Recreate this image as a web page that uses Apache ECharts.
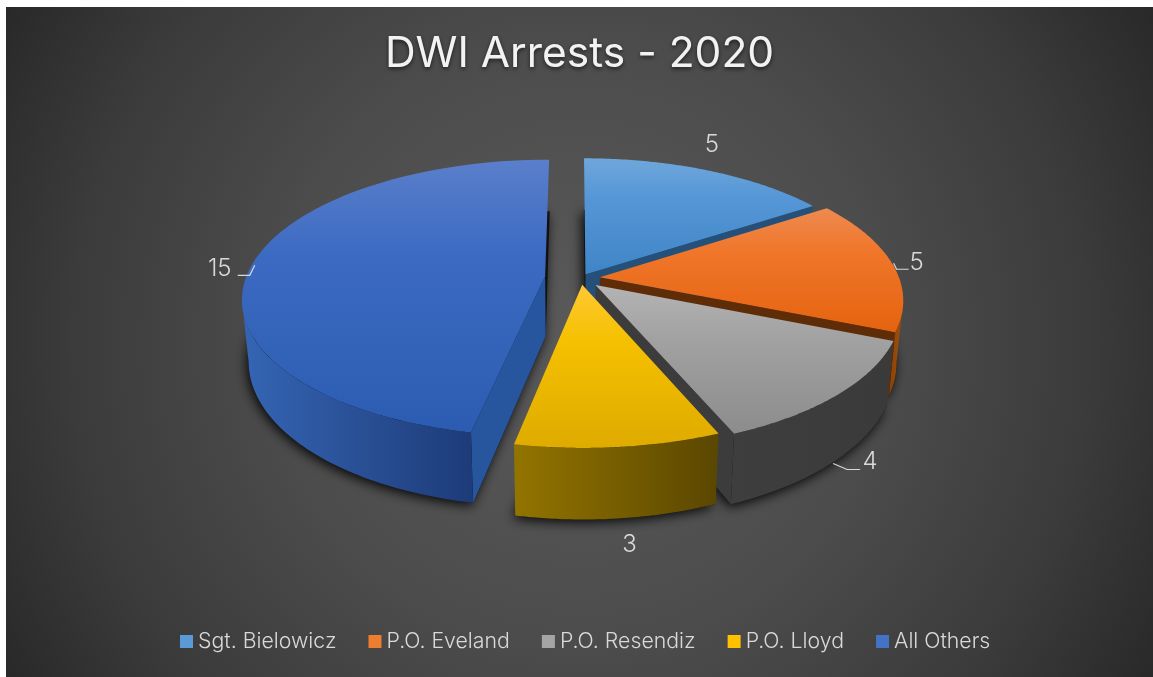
<!DOCTYPE html>
<html><head><meta charset="utf-8">
<style>html,body{margin:0;padding:0;background:#fff;width:1153px;height:677px;overflow:hidden}
#c{position:absolute;left:6px;top:7px;width:1147px;height:670px}</style>
<script src="https://cdn.jsdelivr.net/npm/echarts@6/dist/echarts.min.js"></script>
</head><body><div id="c"></div>
<script>
const categories = ['Sgt. Bielowicz','P.O. Eveland','P.O. Resendiz','P.O. Lloyd','All Others'];
const arrests = [5,5,4,3,15];
const legendColors = ['#5b9bd5','#ed7d31','#a5a5a5','#ffc000','#4472c4'];
const topFrom = ['#6fa7dc','#ee8a50','#b4b4b4','#ffc833','#5a7fcb'];
const topMid = ['#5596d6','#f0762a','#a2a2a2','#f5c000','#3c6ac2'];
const topTo = ['#3f85c6','#e5630f','#8c8c8c','#deab00','#2c5cb2'];
const wallFrom = ['#2d5f8c','#8a4208','#3e3e3e','#937400','#3565b4'];
const wallTo = ['#1f4b73','#a0500c','#3a3a3a','#5a4700','#1d3b78'];
const cutColor = ['#24507a','#5f2c08','#3c3c3c','#8a6c00','#27569f'];
const drawOrder = [0,1,4,2,3];
const explodeX = [0.035,0.083,0.068,0.024,-0.1];
const explodeY = [0.04,0.02,-0.037,-0.035,0.027];
const labelShift = [[4,-26],[24,-1],[32,67],[11,98],[-33,5]];
const leaders = [null,[[-23,0],[-20,6],[-8,6]],[[-37,2],[-23,8],[-10,8]],null,[[35,-3],[30,7],[18,7]]];
const total = arrests.reduce((a,b)=>a+b,0);
const CX=575-6, CY=280-7, RX=300, RY=136, D=6.4, DEPTH=60, TAPER=0.02;
const G = echarts.graphic;
function proj(X,Y,z){const s=D/(D+Y);return [CX+RX*X*s*(1-TAPER*z), CY-RY*Y*s+z*DEPTH*s];}
function slicePts(a1,a2,i,z,n){const ox=explodeX[i],oy=explodeY[i];const pts=[];
  for(let k=0;k<=n;k++){const t=a1+(a2-a1)*k/n;pts.push(proj(Math.sin(t)+ox,Math.cos(t)+oy,z));}
  return pts;}
function extremeAngle(i,sign){let best=0,bx=-Infinity;
  for(let k=0;k<=720;k++){const t=k/720*2*Math.PI;const x=sign*proj(Math.sin(t)+explodeX[i],Math.cos(t)+explodeY[i],0)[0];
    if(x>bx){bx=x;best=t;}}
  return best;}
function renderItem(params,api){
  const i=params.seriesIndex;const v=api.value(0),before=api.value(1);
  const a1=before/total*2*Math.PI,a2=(before+v)/total*2*Math.PI;
  const ox=explodeX[i],oy=explodeY[i];
  const apex=z=>proj(ox,oy,z);
  const kids=[];
  const arcTop=slicePts(a1,a2,i,0,80),arcBot=slicePts(a1,a2,i,1,80);
  kids.push({type:'polygon',shape:{points:[apex(1)].concat(arcBot)},
    style:{fill:'#111',shadowBlur:12,shadowColor:'rgba(0,0,0,0.9)',shadowOffsetX:-2,shadowOffsetY:3}});
  if(Math.sin(a1)<-1e-6) kids.push({type:'polygon',shape:{points:[apex(0),arcTop[0],arcBot[0],apex(1)]},style:{fill:cutColor[i]}});
  if(Math.sin(a2)>1e-6) kids.push({type:'polygon',shape:{points:[apex(0),arcTop[80],arcBot[80],apex(1)]},style:{fill:cutColor[i]}});
  const f1=Math.max(a1,extremeAngle(i,1)),f2=Math.min(a2,extremeAngle(i,-1));
  if(f2>f1){const t=slicePts(f1,f2,i,0,60),b=slicePts(f1,f2,i,1,60).reverse();
    kids.push({type:'polygon',shape:{points:t.concat(b)},style:{fill:new G.LinearGradient(0,0,1,0,[{offset:0,color:wallFrom[i]},{offset:1,color:wallTo[i]}])}});}
  kids.push({type:'polygon',shape:{points:[apex(0)].concat(arcTop)},style:{fill:new G.LinearGradient(0,0,0,1,[{offset:0,color:topFrom[i]},{offset:0.35,color:topMid[i]},{offset:1,color:topTo[i]}])}});
  const m=(a1+a2)/2,p=proj(Math.sin(m)+ox,Math.cos(m)+oy,0);
  const lx=p[0]+labelShift[i][0],ly=p[1]+labelShift[i][1];
  kids.push({type:'text',style:{text:String(v),x:lx,y:ly,align:'center',verticalAlign:'middle',fill:'#d9d9d9',font:'300 24px Inter'}});
  if(leaders[i]) kids.push({type:'polyline',shape:{points:leaders[i].map(o=>[lx+o[0],ly+o[1]])},style:{stroke:'#d9d9d9',lineWidth:1.2,fill:null}});
  return {type:'group',children:kids};
}
let cum=0;
const series=categories.map((name,i)=>{const s={type:'custom',name,coordinateSystem:'none',renderItem,silent:true,animation:false,
  z:2+drawOrder.indexOf(i),itemStyle:{color:legendColors[i]},data:[[arrests[i],cum]]};cum+=arrests[i];return s;});
const chart=echarts.init(document.getElementById('c'),null,{renderer:'canvas'});
chart.setOption({
  animation:false,
  backgroundColor:new G.RadialGradient(0.5,0.5,1,[{offset:0,color:'#5a5a5a'},{offset:0.45,color:'#4c4c4c'},{offset:0.76,color:'#3b3b3b'},{offset:1,color:'#282828'}]),
  title:{text:'DWI Arrests - 2020',left:'center',top:21,textStyle:{color:'#f2f2f2',fontFamily:'Inter',fontWeight:400,fontSize:42.5,textShadowColor:'rgba(0,0,0,0.6)',textShadowBlur:4,textShadowOffsetY:2}},
  legend:{data:categories,bottom:20,left:169,icon:'rect',itemWidth:13,itemHeight:13,itemGap:32,
    textStyle:{color:'#d9d9d9',fontFamily:'Inter',fontWeight:300,fontSize:21.3},selectedMode:false},
  series
});
</script></body></html>
